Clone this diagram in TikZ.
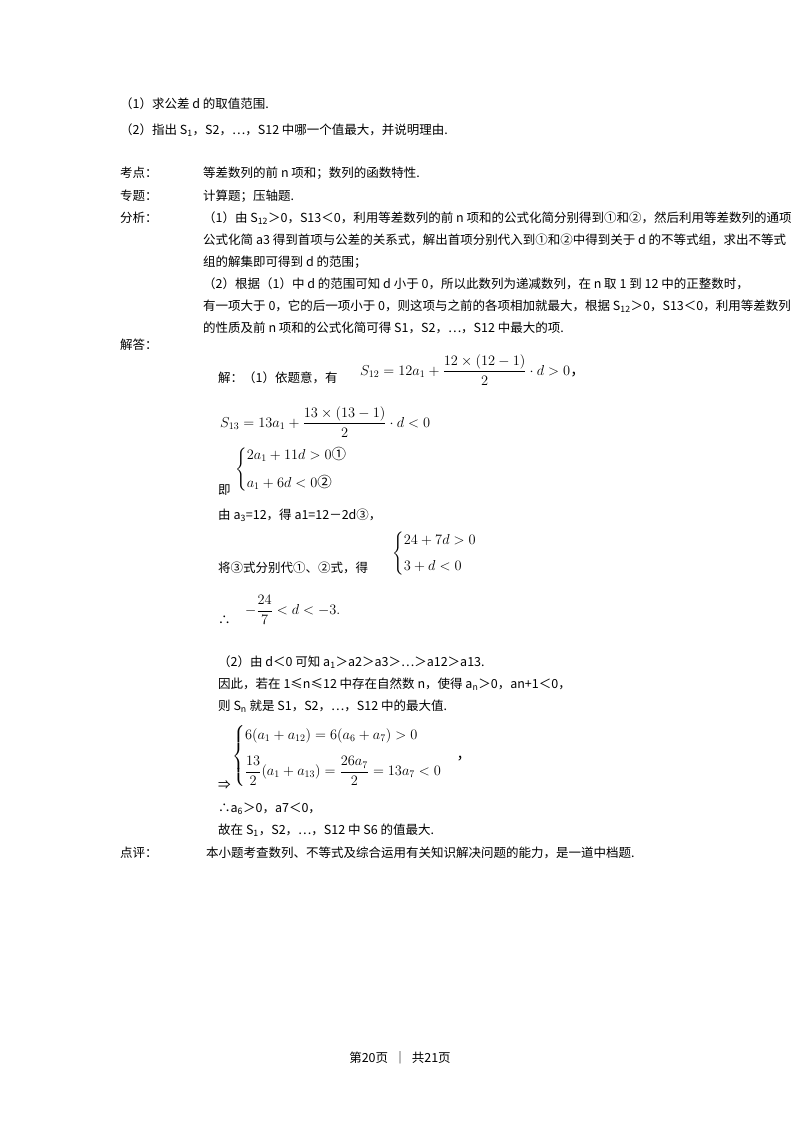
\documentclass[tikz,border=0pt]{standalone}
\usepackage{fontspec}
\usepackage{amsmath}
\setmainfont{Noto Sans CJK SC}
\begin{document}
\begin{tikzpicture}[x=1pt,y=-1pt,
  t/.style={anchor=west,inner sep=0pt,font=\fontsize{12.5}{13}\selectfont},
  m/.style={anchor=west,inner sep=0pt,font=\fontsize{14.5}{15}\selectfont}]
\useasboundingbox (0,0) rectangle (800,1133);
\begin{scope}
\clip (0,0) rectangle (800,1133);
\node[t] (l1) at (120,104) {（1）求公差 d 的取值范围.};
\node[t] (l2) at (120,130) {（2）指出 S\textsubscript{1}，S2，…，S12 中哪一个值最大，并说明理由.};
\node[t] (k1) at (120,173) {考点：};
\node[t] (k2) at (203,173) {等差数列的前 n 项和；数列的函数特性.};
\node[t] (z1) at (120,196) {专题：};
\node[t] (z2) at (203,196) {计算题；压轴题.};
\node[t] (f1) at (120,218) {分析：};
\node[t] (f2) at (203,218) {（1）由 S\textsubscript{12}＞0，S13＜0，利用等差数列的前 n 项和的公式化简分别得到①和②，然后利用等差数列的通项};
\node[t] (f3) at (203,240) {公式化简 a3 得到首项与公差的关系式，解出首项分别代入到①和②中得到关于 d 的不等式组，求出不等式};
\node[t] (f4) at (203,262) {组的解集即可得到 d 的范围；};
\node[t] (f5) at (203,284) {（2）根据（1）中 d 的范围可知 d 小于 0，所以此数列为递减数列，在 n 取 1 到 12 中的正整数时，};
\node[t] (f6) at (203,306) {有一项大于 0，它的后一项小于 0，则这项与之前的各项相加就最大，根据 S\textsubscript{12}＞0，S13＜0，利用等差数列};
\node[t] (f7) at (203,328) {的性质及前 n 项和的公式化简可得 S1，S2，…，S12 中最大的项.};
\end{scope}
\node[t] (j1) at (120,345) {解答：};
\node[t] (j2) at (218,378) {解：（1）依题意，有};
\node[m] (e1) at (360,370) {$S_{12}=12a_1+\dfrac{12\times(12-1)}{2}\cdot d>0$，};
\node[m] (e2) at (220,422) {$S_{13}=13a_1+\dfrac{13\times(13-1)}{2}\cdot d<0$};
\node[t] (j3) at (218,490) {即};
\node[m] (e3) at (235,470) {$\begin{cases}2a_1+11d>0\text{①}\\[10pt] a_1+6d<0\text{②}\end{cases}$};
\node[t] (j4) at (218,515) {由 a\textsubscript{3}=12，得 a1=12－2d③，};
\node[t] (j5) at (218,568) {将③式分别代①、②式，得};
\node[m] (e4) at (392,554) {$\begin{cases}24+7d>0\\[8pt] 3+d<0\end{cases}$};
\node[t] (j6) at (218,620) {∴};
\node[m] (e5) at (245,610) {$-\dfrac{24}{7}<d<-3.$};
\node[t] (p1) at (218,662) {（2）由 d＜0 可知 a\textsubscript{1}＞a2＞a3＞…＞a12＞a13.};
\node[t] (p2) at (218,684) {因此，若在 1≤n≤12 中存在自然数 n，使得 a\textsubscript{n}＞0，an+1＜0，};
\node[t] (p3) at (218,706) {则 S\textsubscript{n} 就是 S1，S2，…，S12 中的最大值.};
\node[t] (p4) at (218,785) {⇒};
\node[m] (e6) at (232,756) {$\begin{cases}6(a_1+a_{12})=6(a_6+a_7)>0\\[12pt] \dfrac{13}{2}(a_1+a_{13})=\dfrac{26a_7}{2}=13a_7<0\end{cases}$，};
\node[t] (p5) at (218,809) {∴a\textsubscript{6}＞0，a7＜0，};
\node[t] (p6) at (218,830) {故在 S\textsubscript{1}，S2，…，S12 中 S6 的值最大.};
\node[t] (d1) at (120,853) {点评：};
\node[t] (d2) at (206,853) {本小题考查数列、不等式及综合运用有关知识解决问题的能力，是一道中档题.};
\node[t,anchor=center] (ft) at (400,1058) {第20页 \ ｜ \ 共21页};
\end{tikzpicture}
\end{document}
